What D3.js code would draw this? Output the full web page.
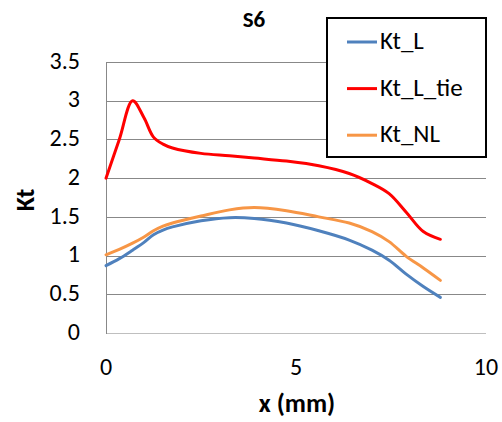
<!DOCTYPE html>
<html>
<head>
<meta charset="utf-8">
<script src="https://cdn.jsdelivr.net/npm/d3@7"></script>
<style>
  html, body { margin: 0; padding: 0; background: #fff; }
  svg { display: block; font-family: Carlito, Lato, "Open Sans", sans-serif; }
</style>
</head>
<body>
<svg id="chart" width="502" height="422"></svg>
<script>
// ---- data ----
const xValues = [0, 0.35, 0.7, 1.0, 1.25, 1.5, 1.75, 2.5, 3.25, 3.9, 4.75, 5.6, 6.4, 7.0, 7.45, 7.9, 8.35, 8.8];
const ktL     = [0.87, 0.96, 1.07, 1.17, 1.27, 1.33, 1.37, 1.45, 1.49, 1.48, 1.42, 1.32, 1.20, 1.07, 0.94, 0.76, 0.60, 0.46];
const ktLtie  = [2.00, 2.50, 3.00, 2.78, 2.53, 2.44, 2.39, 2.32, 2.29, 2.26, 2.22, 2.16, 2.06, 1.93, 1.80, 1.56, 1.31, 1.21];
const ktNL    = [1.01, 1.08, 1.16, 1.24, 1.32, 1.38, 1.42, 1.51, 1.59, 1.62, 1.58, 1.50, 1.42, 1.31, 1.18, 0.99, 0.84, 0.68];
const seriesNames = ["Kt_L", "Kt_L_tie", "Kt_NL"];
const seriesColors = ["#4F81BD", "#FF0000", "#F79646"];
const xTicks = [0, 5, 10];
const yTicks = [0, 0.5, 1, 1.5, 2, 2.5, 3, 3.5];
const chartTitle = "S6";
const xTitle = "x (mm)";
const yTitle = "Kt";

const series = [ktL, ktLtie, ktNL].map((vals, i) => ({
  name: seriesNames[i], color: seriesColors[i],
  points: vals.map((v, j) => [xValues[j], v])
}));

// ---- layout ----
const svg = d3.select("#chart");
const pLeft = 106, pRight = 486, pTop = 62, pBottom = 333;
const x = d3.scaleLinear().domain([0, 10]).range([pLeft, pRight]);
const y = d3.scaleLinear().domain([0, 3.5]).range([pBottom, pTop]);

// gridlines
svg.append("g").selectAll("line").data(yTicks).join("line")
  .attr("x1", pLeft).attr("x2", pRight)
  .attr("y1", d => Math.round(y(d)) + 0.5).attr("y2", d => Math.round(y(d)) + 0.5)
  .attr("stroke", d => d === 0 ? "#bfbfbf" : "#888888").attr("stroke-width", 1);

// y axis line
svg.append("line")
  .attr("x1", pLeft + 0.5).attr("x2", pLeft + 0.5)
  .attr("y1", pTop).attr("y2", pBottom + 1)
  .attr("stroke", "#888888").attr("stroke-width", 1);

// y tick labels
svg.append("g").selectAll("text").data(yTicks).join("text")
  .attr("x", 80).attr("y", d => y(d) + 1)
  .attr("text-anchor", "end").attr("dominant-baseline", "middle")
  .attr("font-size", 24).attr("fill", "#000")
  .text(d => d);

// x tick labels
svg.append("g").selectAll("text").data(xTicks).join("text")
  .attr("x", d => x(d)).attr("y", 369)
  .attr("text-anchor", "middle").attr("dominant-baseline", "middle")
  .attr("font-size", 24).attr("fill", "#000")
  .text(d => d);

// lines
const line = d3.line().x(d => x(d[0])).y(d => y(d[1])).curve(d3.curveCatmullRom.alpha(0.5));
svg.append("g").selectAll("path").data(series).join("path")
  .attr("d", d => line(d.points))
  .attr("fill", "none").attr("stroke", d => d.color)
  .attr("stroke-width", 3).attr("stroke-linejoin", "round").attr("stroke-linecap", "round");

// titles
svg.append("text").attr("x", 254).attr("y", 21)
  .attr("text-anchor", "middle").attr("dominant-baseline", "middle")
  .attr("font-size", 23).attr("font-weight", "bold").text(chartTitle);
svg.append("text").attr("x", 297).attr("y", 406)
  .attr("text-anchor", "middle").attr("dominant-baseline", "middle")
  .attr("font-size", 26).attr("font-weight", "bold").text(xTitle);
svg.append("text").attr("transform", "translate(28,200) rotate(-90)")
  .attr("text-anchor", "middle").attr("dominant-baseline", "middle")
  .attr("font-size", 26).attr("font-weight", "bold").text(yTitle);

// legend
const lg = svg.append("g");
lg.append("rect").attr("x", 327).attr("y", 18).attr("width", 159).attr("height", 139)
  .attr("fill", "#fff").attr("stroke", "#000").attr("stroke-width", 2);
const items = lg.selectAll("g.item").data(series).join("g").attr("class", "item")
  .attr("transform", (d, i) => `translate(0,${42 + i * 46.6})`);
items.append("line").attr("x1", 347).attr("x2", 377).attr("y1", 0).attr("y2", 0)
  .attr("stroke", d => d.color).attr("stroke-width", 3);
items.append("text").attr("x", 380).attr("y", 1)
  .attr("dominant-baseline", "middle").attr("font-size", 25).text(d => d.name);
</script>
</body>
</html>
